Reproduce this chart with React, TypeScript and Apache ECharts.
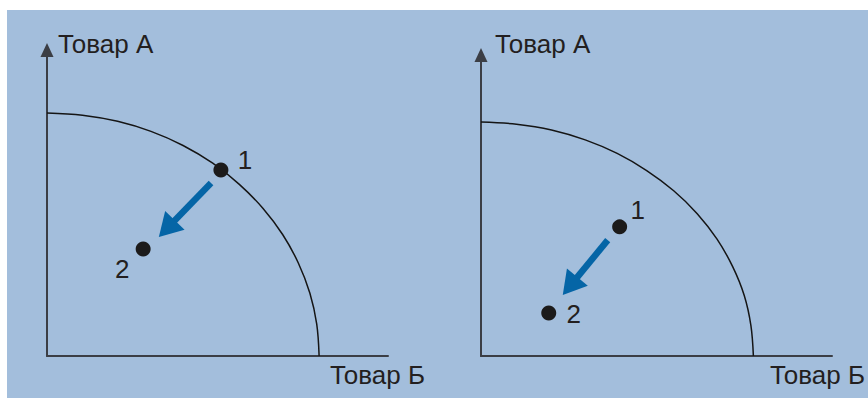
import React, { useEffect, useRef } from "react";
import * as echarts from "echarts";

const FONT = "'Liberation Sans', Arial, Helvetica, sans-serif";

// Axis titles
const yAxisTitle = "Товар А";
const xAxisTitle = "Товар Б";

// Left panel: production possibility frontier (x = Товар Б, y = Товар А)
const leftCurve: number[][] = [
  [0, 79.4], [10.4, 78.7], [20.7, 76.7], [30.5, 73.4], [39.9, 68.8],
  [48.6, 63.0], [56.4, 56.1], [63.3, 48.3], [69.1, 39.7], [73.7, 30.4],
  [77.1, 20.5], [79.1, 10.4], [79.8, 0],
];
const leftPoints: number[][] = [[51.0, 60.8], [28.2, 35.0]];
const leftPointLabels = ["1", "2"];
const leftArrow: number[][] = [[48.1, 56.5, 32.8, 38.9]];

// Right panel
const rightCurve: number[][] = [
  [0, 77.7], [10.1, 77.0], [20.1, 75.1], [29.7, 71.8], [38.8, 67.3],
  [47.2, 61.6], [54.9, 54.9], [61.6, 47.3], [67.2, 38.9], [71.7, 29.7],
  [75.0, 20.1], [76.9, 10.1], [77.6, 0],
];
const rightPoints: number[][] = [[39.5, 42.9], [19.3, 14.3]];
const rightPointLabels = ["1", "2"];
const rightArrow: number[][] = [[36.1, 38.5, 23.3, 20.3]];

const AXIS_COLOR = "#3b3e45";
const TEXT_COLOR = "#231f20";
const ARROW_COLOR = "#0565a6";
const DOT_COLOR = "#1c1b1b";

export default function App() {
  const ref = useRef<HTMLDivElement>(null);

  useEffect(() => {
    if (!ref.current) return;
    const chart = echarts.init(ref.current, null, { renderer: "svg" });

    const makeX = (gridIndex: number, nameGap: number) => ({
      type: "value",
      gridIndex,
      min: 0,
      max: 100,
      axisLine: { show: true, onZero: false, lineStyle: { color: AXIS_COLOR, width: 2 } },
      axisTick: { show: false },
      axisLabel: { show: false },
      splitLine: { show: false },
      name: xAxisTitle,
      nameLocation: "end",
      nameGap,
      nameTextStyle: {
        fontFamily: FONT,
        fontSize: 26,
        color: TEXT_COLOR,
        align: "right",
        verticalAlign: "top",
        lineHeight: 26,
        padding: [6, 0, 0, 0],
      },
    });

    const makeY = (gridIndex: number, nameGap: number, padLeft: number) => ({
      type: "value",
      gridIndex,
      min: 0,
      max: 100,
      axisLine: {
        show: true,
        onZero: false,
        symbol: ["none", "triangle"],
        symbolSize: [13, 14],
        lineStyle: { color: AXIS_COLOR, width: 2 },
      },
      axisTick: { show: false },
      axisLabel: { show: false },
      splitLine: { show: false },
      name: yAxisTitle,
      nameLocation: "end",
      nameGap,
      nameTextStyle: {
        fontFamily: FONT,
        fontSize: 26,
        color: TEXT_COLOR,
        align: "left",
        verticalAlign: "bottom",
        lineHeight: 26,
        padding: [0, 0, 0, padLeft],
      },
    });

    const arrowRender = (params: any, api: any) => {
      const s = api.coord([api.value(0), api.value(1)]);
      const t = api.coord([api.value(2), api.value(3)]);
      const dx = t[0] - s[0];
      const dy = t[1] - s[1];
      const len = Math.hypot(dx, dy) || 1;
      const ux = dx / len;
      const uy = dy / len;
      const px = -uy;
      const py = ux;
      const headLen = 23;
      const headW = 27;
      const bx = t[0] - ux * headLen;
      const by = t[1] - uy * headLen;
      return {
        type: "group",
        children: [
          {
            type: "line",
            shape: { x1: s[0], y1: s[1], x2: bx + ux * 3, y2: by + uy * 3 },
            style: { stroke: ARROW_COLOR, lineWidth: 6.5 },
          },
          {
            type: "polygon",
            shape: {
              points: [
                [t[0], t[1]],
                [bx + (px * headW) / 2, by + (py * headW) / 2],
                [bx - (px * headW) / 2, by - (py * headW) / 2],
              ],
            },
            style: { fill: ARROW_COLOR },
          },
        ],
      };
    };

    const dotSeries = (idx: number, pts: number[][], labels: string[], offsets: number[][]) => ({
      type: "scatter",
      xAxisIndex: idx,
      yAxisIndex: idx,
      symbol: "circle",
      symbolSize: 15,
      itemStyle: { color: DOT_COLOR, opacity: 1 },
      z: 5,
      data: pts.map((p, i) => ({
        value: p,
        label: {
          show: true,
          formatter: labels[i],
          position: "inside",
          offset: offsets[i],
          fontFamily: FONT,
          fontSize: 26,
          color: TEXT_COLOR,
        },
      })),
    });

    const curveSeries = (idx: number, data: number[][]) => ({
      type: "line",
      xAxisIndex: idx,
      yAxisIndex: idx,
      data,
      smooth: 0.35,
      showSymbol: false,
      symbol: "none",
      lineStyle: { color: "#151515", width: 1.5 },
      z: 3,
    });

    const arrowSeries = (idx: number, data: number[][]) => ({
      type: "custom",
      xAxisIndex: idx,
      yAxisIndex: idx,
      encode: { x: [0, 2], y: [1, 3] },
      data,
      renderItem: arrowRender,
      z: 4,
    });

    chart.setOption({
      animation: false,
      backgroundColor: "#ffffff",
      graphic: [
        {
          type: "rect",
          z: -10,
          silent: true,
          shape: { x: 7, y: 10, width: 861, height: 388 },
          style: { fill: "#a3bedc" },
        },
      ],
      grid: [
        { left: 47, top: 50, width: 341, height: 306 },
        { left: 481, top: 55, width: 352, height: 301 },
      ],
      xAxis: [makeX(0, 37), makeX(1, 33)],
      yAxis: [makeY(0, -7, 11), makeY(1, -2, 14)],
      series: [
        curveSeries(0, leftCurve),
        arrowSeries(0, leftArrow),
        dotSeries(0, leftPoints, leftPointLabels, [[24, -10], [-21, 20]]),
        curveSeries(1, rightCurve),
        arrowSeries(1, rightArrow),
        dotSeries(1, rightPoints, rightPointLabels, [[18, -17], [25, 1]]),
      ],
    });

    return () => {
      chart.dispose();
    };
  }, []);

  return (
    <div
      ref={ref}
      style={{ position: "fixed", left: 0, top: 0, width: 868, height: 399 }}
    />
  );
}
